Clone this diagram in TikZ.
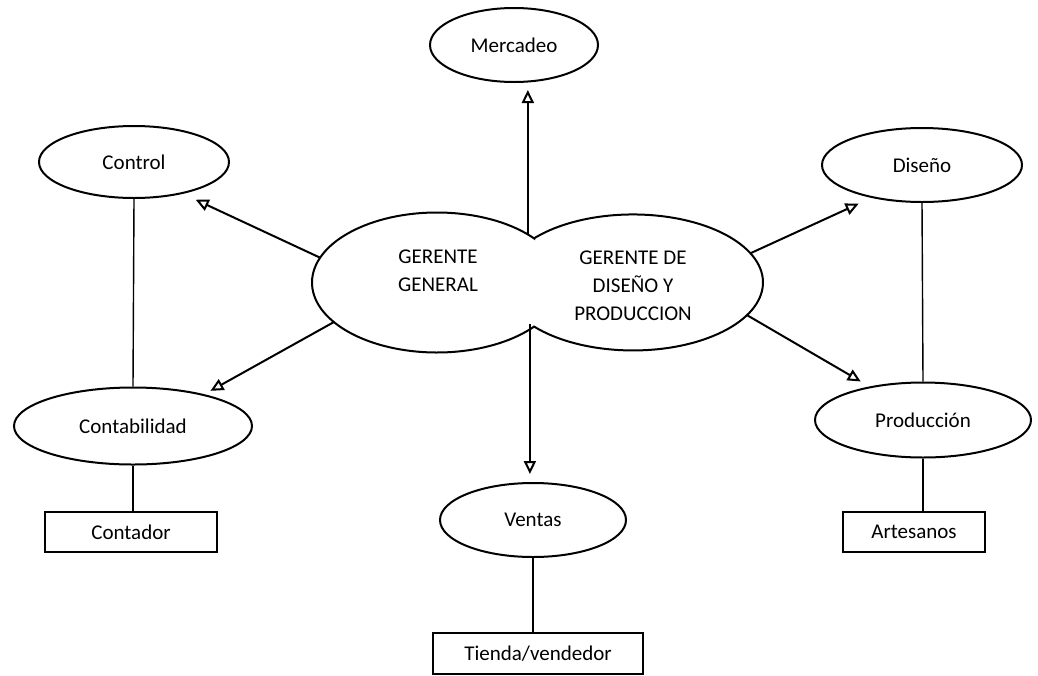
\documentclass[tikz,border=0pt]{standalone}
\usepackage{fontspec}
\setmainfont{Carlito}
\usetikzlibrary{shapes.geometric,arrows.meta}
\begin{document}
\begin{tikzpicture}[x=1pt,y=1pt,
  every node/.style={font=\fontsize{21}{28}\selectfont},
  oval/.style={ellipse,draw,line width=2pt,inner sep=0pt},
  hub/.style={ellipse,inner sep=0pt},
  box/.style={rectangle,draw,line width=1.8pt,inner sep=0pt},
  arr/.style={line width=2pt,line join=miter,-{Triangle[open,length=13pt,width=12pt]}},
  link/.style={line width=1.4pt}]
\useasboundingbox (0,0) rectangle (1038,-675);

% the two managers: two overlapping ellipses drawn as one outline
\node[hub,minimum width=250pt,minimum height=140pt] (gg)  at (437,-282.5) {};
\node[hub,minimum width=260pt,minimum height=136pt] (gdp) at (633,-282.5) {};
\draw[line width=2pt]
  (437,-282.5) ++(39.03:125pt and 70pt)
  arc[start angle=39.03, end angle=320.97, x radius=125pt, y radius=70pt]
  arc[start angle=-139.53, end angle=139.53, x radius=130pt, y radius=68pt]
  -- cycle;
\node[align=center] (ggtext)  at (438,-271) {GERENTE\\GENERAL};
\node[align=center] (gdptext) at (633,-286) {GERENTE DE\\DISEÑO Y\\PRODUCCION};

% departments
\node[oval,minimum width=168pt,minimum height=74pt] (merc)    at (514,-45)  {Mercadeo};
\node[oval,minimum width=190pt,minimum height=72pt] (control) at (134,-162) {Control};
\node[oval,minimum width=238pt,minimum height=77pt] (contab)  at (133,-426) {Contabilidad};
\node[oval,minimum width=200pt,minimum height=74pt] (diseno)  at (922,-165) {Diseño};
\node[oval,minimum width=216pt,minimum height=75pt] (prod)    at (923,-420) {Producción};
\node[oval,minimum width=186pt,minimum height=74pt] (ventas)  at (533,-520) {Ventas};

% staff boxes
\node[box,minimum width=172pt,minimum height=40pt] (contador)  at (131,-532) {Contador};
\node[box,minimum width=142pt,minimum height=40pt] (artesanos) at (914,-532) {Artesanos};
\node[box,minimum width=210pt,minimum height=41pt] (tienda)    at (538,-653.5) {Tienda/vendedor};

% arrows from the managers
\draw[arr,shorten >=7pt]  (gg.28.9) -- (gg.28.9 |- merc.south);
\draw[arr,shorten >=14pt] (gg.168.1) -- (control.-33);
\draw[arr,shorten >=7pt]  (gg.201.4) -- (contab.24);
\draw[arr,shorten >=8pt]  (gdp.202.97) -- (gdp.202.97 |- ventas.north);
\draw[arr,shorten >=14pt] (gdp.14) -- (diseno.213.7);
\draw[arr,shorten >=10pt] (gdp.-16.2) -- (prod.148.9);

% plain links
\draw[link] (control.south) -- (contab.north);
\draw[link] (contab.south) -- (contab.south |- contador.north);
\draw[link] (diseno.south) -- (prod.north);
\draw[link] (prod.south) -- (prod.south |- artesanos.north);
\draw[link] (ventas.south) -- (ventas.south |- tienda.north);
\end{tikzpicture}
\end{document}
